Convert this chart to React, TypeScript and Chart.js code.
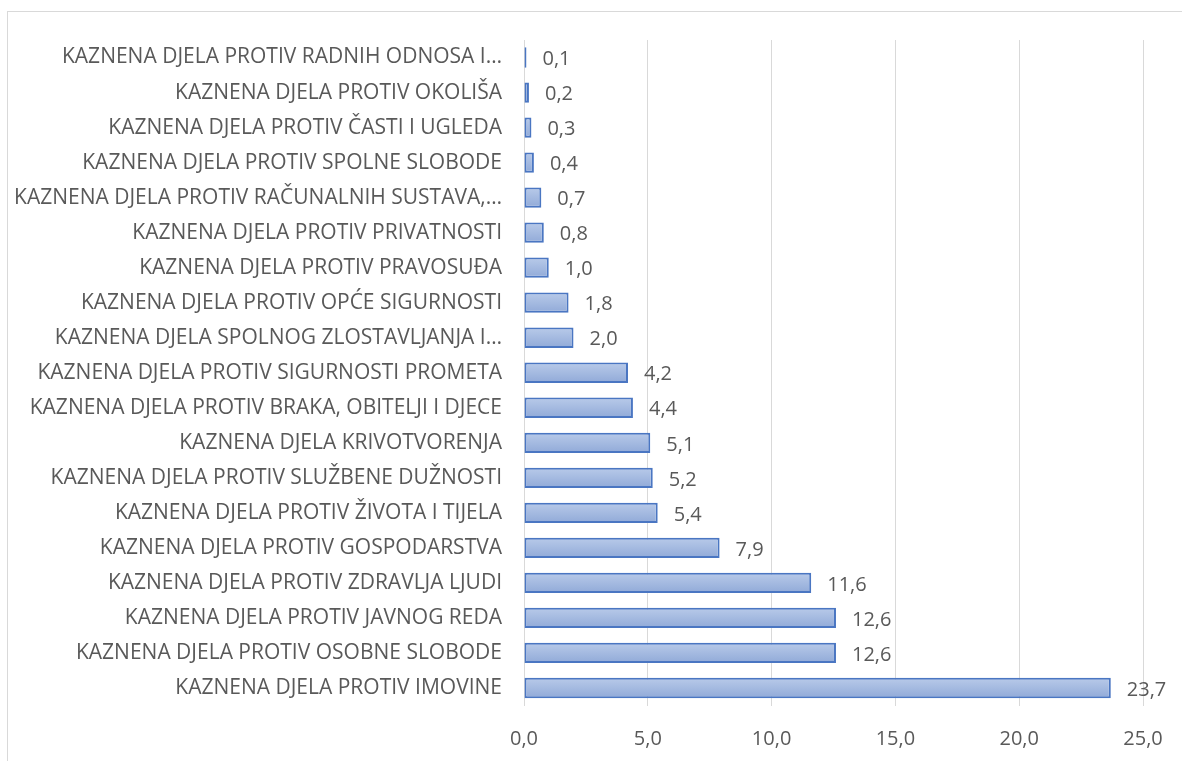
import React, { useEffect, useRef } from "react";
import { Chart, registerables } from "chart.js";

Chart.register(...registerables);

const categories = [
  "KAZNENA DJELA PROTIV RADNIH ODNOSA I…",
  "KAZNENA DJELA PROTIV OKOLIŠA",
  "KAZNENA DJELA PROTIV ČASTI I UGLEDA",
  "KAZNENA DJELA PROTIV SPOLNE SLOBODE",
  "KAZNENA DJELA PROTIV RAČUNALNIH SUSTAVA,…",
  "KAZNENA DJELA PROTIV PRIVATNOSTI",
  "KAZNENA DJELA PROTIV PRAVOSUĐA",
  "KAZNENA DJELA PROTIV OPĆE SIGURNOSTI",
  "KAZNENA DJELA SPOLNOG ZLOSTAVLJANJA I…",
  "KAZNENA DJELA PROTIV SIGURNOSTI PROMETA",
  "KAZNENA DJELA PROTIV BRAKA, OBITELJI I DJECE",
  "KAZNENA DJELA KRIVOTVORENJA",
  "KAZNENA DJELA PROTIV SLUŽBENE DUŽNOSTI",
  "KAZNENA DJELA PROTIV ŽIVOTA I TIJELA",
  "KAZNENA DJELA PROTIV GOSPODARSTVA",
  "KAZNENA DJELA PROTIV ZDRAVLJA LJUDI",
  "KAZNENA DJELA PROTIV JAVNOG REDA",
  "KAZNENA DJELA PROTIV OSOBNE SLOBODE",
  "KAZNENA DJELA PROTIV IMOVINE",
];

const values = [0.1, 0.2, 0.3, 0.4, 0.7, 0.8, 1.0, 1.8, 2.0, 4.2, 4.4, 5.1, 5.2, 5.4, 7.9, 11.6, 12.6, 12.6, 23.7];

const xMin = 0;
const xMax = 25;
const xStep = 5;

const FONT = "'Open Sans', sans-serif";
const TEXT = "#595959";

const fmt = (v: number) => v.toFixed(1).replace(".", ",");

const valueLabels = {
  id: "valueLabels",
  afterDatasetsDraw(chart: any) {
    const ctx = chart.ctx;
    const meta = chart.getDatasetMeta(0);
    ctx.save();
    ctx.font = `20px ${FONT}`;
    ctx.fillStyle = TEXT;
    ctx.textAlign = "left";
    ctx.textBaseline = "middle";
    meta.data.forEach((el: any, i: number) => {
      ctx.fillText(fmt(values[i]), el.x + 16, el.y + 2);
    });
    ctx.restore();
  },
};

export default function App() {
  const ref = useRef<HTMLCanvasElement | null>(null);
  useEffect(() => {
    if (!ref.current) return;
    const chart = new Chart(ref.current, {
      type: "bar",
      data: {
        labels: categories,
        datasets: [
          {
            data: values,
            backgroundColor: (c: any) => {
              const ch = c.chart;
              const ys = ch.scales && ch.scales.y;
              if (!ch.chartArea || !ys || c.dataIndex === undefined) return "#a3b8e0";
              const y = ys.getPixelForValue(c.dataIndex);
              const g = ch.ctx.createLinearGradient(0, y - 10, 0, y + 10);
              g.addColorStop(0, "#b8cae9");
              g.addColorStop(1, "#91aad8");
              return g;
            },
            borderColor: "#4a76c2",
            borderWidth: 2,
            borderSkipped: false,
            barPercentage: 0.58,
            categoryPercentage: 1,
          },
        ],
      },
      options: {
        indexAxis: "y",
        animation: false,
        responsive: false,
        maintainAspectRatio: false,
        layout: { padding: { left: 0, right: 39, top: 40, bottom: 0 } },
        plugins: { legend: { display: false }, tooltip: { enabled: false } },
        scales: {
          x: {
            min: xMin,
            max: xMax,
            ticks: {
              stepSize: xStep,
              padding: 22,
              color: TEXT,
              font: { family: FONT, size: 20 },
              callback: (v: any) => fmt(Number(v)),
            },
            grid: { color: "#d9d9d9", lineWidth: 1, drawTicks: false },
            border: { display: false },
            afterFit: (s: any) => {
              s.height = 55.5;
              s.paddingLeft = 0;
              s.paddingRight = 0;
            },
          },
          y: {
            ticks: {
              padding: 22,
              color: TEXT,
              font: { family: FONT, size: 21 },
              autoSkip: false,
            },
            grid: { display: false, drawTicks: false },
            border: { display: true, color: "#d9d9d9", width: 1 },
            afterFit: (s: any) => {
              s.width = 524;
            },
          },
        },
      },
      plugins: [valueLabels],
    });
    return () => chart.destroy();
  }, []);
  return (
    <div style={{ position: "fixed", left: 0, top: 0, width: 1182, height: 761, overflow: "hidden", background: "#fff" }}>
      <div
        style={{
          position: "absolute",
          left: 7,
          top: 11,
          width: 1300,
          height: 900,
          borderTop: "1px solid #d9d9d9",
          borderLeft: "1px solid #d9d9d9",
        }}
      />
      <canvas ref={ref} width={1182} height={761} style={{ position: "absolute", left: 0, top: 0 }} />
    </div>
  );
}
